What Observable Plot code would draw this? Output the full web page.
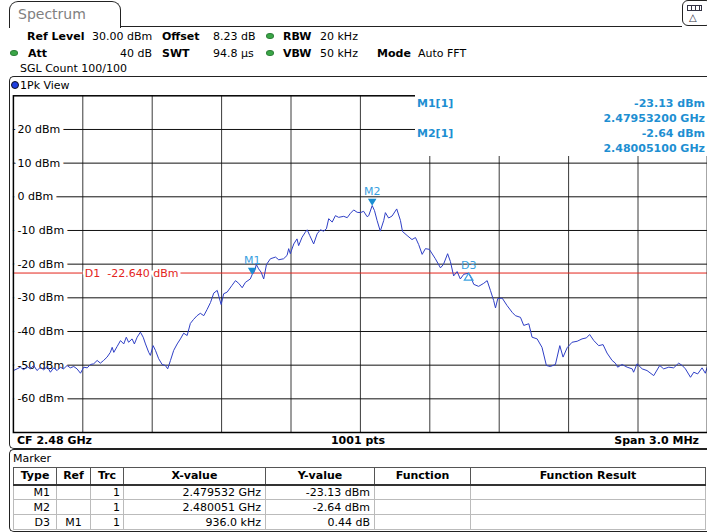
<!DOCTYPE html>
<html><head><meta charset="utf-8">
<script src="https://cdn.jsdelivr.net/npm/d3@7"></script>
<script src="https://cdn.jsdelivr.net/npm/@observablehq/plot@0.6"></script>
<style>
html,body{margin:0;padding:0;overflow:hidden;background:#fff}
body{position:relative;width:707px;height:532px;font-family:"DejaVu Sans",Verdana,sans-serif;font-size:11px;color:#000}
.a{position:absolute;white-space:nowrap;line-height:12px;z-index:3}
.g{position:absolute;width:8px;height:6px;border-radius:50%;background:#3aa647;border:1px solid #2a7d35;box-sizing:border-box;z-index:3}
#chart{position:absolute;left:0;top:0;z-index:1}
.panel{position:absolute;border:1.5px solid #222;border-right:none;border-radius:5px 0 0 5px;z-index:0}
#info{position:absolute;left:415px;top:95px;width:292px;height:61px;background:#fff;z-index:2;color:#1e8fd2;font-weight:bold}
#info div{position:absolute;white-space:nowrap;line-height:12px}
table{position:absolute;left:13px;top:467px;border-collapse:collapse;table-layout:fixed;width:692px;font-size:11px;z-index:3}
tr{height:15px}
thead tr{height:17px}
th,td{padding:0 4px;line-height:13px;white-space:nowrap;overflow:hidden}
th{font-weight:bold;text-align:center;border:1px solid #555;border-bottom:2px solid #333}
td{border:1px solid #bbb;text-align:right}
</style></head>
<body>
<div id="chart"></div>

<!-- top tab -->
<div style="position:absolute;left:9px;top:1px;width:110px;height:26px;border:1.5px solid #222;border-bottom:none;border-radius:9px 9px 0 0"></div>
<div style="position:absolute;left:120px;top:26px;width:562px;border-top:1.5px solid #222"></div>
<div style="position:absolute;left:682px;top:0px;width:30px;height:26px;border:1.5px solid #222;border-radius:6px;box-sizing:border-box"></div>
<div style="position:absolute;left:687px;top:5px;width:13px;height:4px;border:1px solid #334;background:repeating-linear-gradient(90deg,#fff 0 3px,#334 3px 4px)"></div>
<div class="a" style="left:689px;top:12px;font-size:10px;color:#334">△</div>
<div class="a" style="left:18px;top:6px;font-size:14px;line-height:16px;color:#808080">Spectrum</div>

<!-- header rows -->
<div class="a" style="left:27px;top:30.5px"><b>Ref Level</b></div>
<div class="a" style="left:92px;top:30.5px">30.00 dBm</div>
<div class="a" style="left:162px;top:30.5px"><b>Offset</b></div>
<div class="a" style="left:213px;top:30.5px">8.23 dB</div>
<div class="g" style="left:266px;top:33px"></div>
<div class="a" style="left:283px;top:30.5px"><b>RBW</b></div>
<div class="a" style="left:320px;top:30.5px">20 kHz</div>

<div class="g" style="left:10px;top:50px"></div>
<div class="a" style="left:28px;top:47.5px"><b>Att</b></div>
<div class="a" style="left:120px;top:47.5px">40 dB</div>
<div class="a" style="left:162px;top:47.5px"><b>SWT</b></div>
<div class="a" style="left:213px;top:47.5px">94.8 µs</div>
<div class="g" style="left:266px;top:50px"></div>
<div class="a" style="left:283px;top:47.5px"><b>VBW</b></div>
<div class="a" style="left:320px;top:47.5px">50 kHz</div>
<div class="a" style="left:377px;top:47.5px"><b>Mode</b></div>
<div class="a" style="left:418px;top:47.5px">Auto FFT</div>

<div class="a" style="left:20px;top:63px">SGL Count 100/100</div>

<!-- diagram panel -->
<div class="panel" style="left:9px;top:76px;width:700px;height:371px"></div>
<div style="position:absolute;left:11px;top:81px;width:8px;height:8px;border-radius:50%;background:#1f3fe0;border:1px solid #112;box-sizing:border-box;z-index:3"></div>
<div class="a" style="left:20px;top:79.5px">1Pk View</div>

<div id="info">
  <div style="left:2px;top:3px">M1[1]</div>
  <div style="right:2px;top:3px">-23.13 dBm</div>
  <div style="right:2px;top:18px">2.47953200 GHz</div>
  <div style="left:2px;top:33px">M2[1]</div>
  <div style="right:2px;top:33px">-2.64 dBm</div>
  <div style="right:2px;top:48px">2.48005100 GHz</div>
</div>

<div class="a" style="left:17px;top:435px"><b>CF 2.48 GHz</b></div>
<div class="a" style="left:358px;top:435px;transform:translateX(-50%)"><b>1001 pts</b></div>
<div class="a" style="right:8px;top:435px"><b>Span 3.0 MHz</b></div>

<!-- marker table panel -->
<div class="panel" style="left:9px;top:449px;width:700px;height:81px"></div>
<div class="a" style="left:13px;top:453px">Marker</div>
<table id="tbl">
<colgroup><col style="width:43px"><col style="width:34px"><col style="width:33px"><col style="width:142px"><col style="width:109px"><col style="width:96px"><col style="width:235px"></colgroup>
<thead><tr id="thead"></tr></thead>
<tbody id="tbody"></tbody>
</table>

<script>
// ---- trace data (offset from CF 2.48 GHz, in MHz; level in dBm) ----
const freqMHz = [
-1.500,-1.484,-1.470,-1.455,-1.441,-1.427,-1.412,-1.398,-1.383,-1.369,
-1.354,-1.340,-1.326,-1.311,-1.297,-1.283,-1.268,-1.254,-1.239,-1.225,
-1.210,-1.196,-1.181,-1.167,-1.153,-1.138,-1.124,-1.110,-1.095,-1.081,
-1.073,-1.066,-1.052,-1.037,-1.023,-1.012,-1.002,-0.987,-0.977,-0.965,
-0.951,-0.939,-0.929,-0.915,-0.908,-0.896,-0.886,-0.872,-0.857,-0.843,
-0.833,-0.821,-0.807,-0.792,-0.778,-0.764,-0.749,-0.735,-0.721,-0.706,
-0.692,-0.677,-0.663,-0.648,-0.634,-0.619,-0.602,-0.591,-0.576,-0.555,
-0.540,-0.526,-0.511,-0.497,-0.476,-0.468,-0.458,-0.450,-0.440,-0.429,
-0.418,-0.406,-0.389,-0.367,-0.353,-0.332,-0.317,-0.310,-0.303,-0.288,
-0.274,-0.267,-0.252,-0.238,-0.230,-0.219,-0.202,-0.187,-0.173,-0.159,
-0.147,-0.137,-0.122,-0.108,-0.094,-0.072,-0.057,-0.043,-0.029,-0.014,
 0.000, 0.014, 0.029, 0.036, 0.051, 0.061, 0.072, 0.086, 0.101, 0.108,
 0.122, 0.137, 0.157, 0.173, 0.182, 0.202, 0.223, 0.238, 0.252, 0.267,
 0.281, 0.298, 0.324, 0.346, 0.359, 0.377, 0.389, 0.403, 0.418, 0.432,
 0.447, 0.468, 0.480, 0.490, 0.511, 0.533, 0.548, 0.562, 0.576, 0.584,
 0.594, 0.613, 0.634, 0.656, 0.670, 0.692, 0.706, 0.728, 0.742, 0.764,
 0.785, 0.804, 0.821, 0.843, 0.862, 0.876, 0.894, 0.915, 0.937, 0.958,
 0.977, 0.991, 1.009, 1.030, 1.049, 1.066, 1.088, 1.102, 1.112, 1.131,
 1.153, 1.175, 1.181, 1.196, 1.218, 1.239, 1.268, 1.294, 1.311, 1.333,
 1.354, 1.376, 1.391, 1.405, 1.427, 1.441, 1.458, 1.477, 1.491, 1.500];
const levelDbm = [
-51.6,-51.1,-50.6,-51.4,-50.4,-51.1,-50.1,-51.6,-50.6,-51.4,
-50.4,-52.1,-50.8,-51.6,-50.6,-51.1,-50.1,-50.8,-50.4,-51.1,
-52.4,-50.6,-50.8,-49.8,-49.6,-48.6,-49.4,-48.6,-47.6,-46.2,
-44.7,-46.2,-44.5,-42.7,-43.7,-41.7,-43.2,-42.2,-43.7,-41.7,
-40.2,-41.7,-43.7,-46.2,-47.1,-44.2,-45.6,-48.1,-49.8,-50.1,
-51.1,-48.6,-45.6,-43.7,-42.2,-40.5,-41.2,-37.6,-36.4,-35.3,
-34.6,-35.3,-33.5,-31.4,-28.6,-27.8,-32.0,-28.8,-28.3,-26.3,
-24.9,-25.7,-27.0,-25.4,-24.4,-23.1,-22.2,-20.1,-21.4,-22.4,
-24.4,-20.1,-18.4,-17.9,-18.7,-18.4,-17.4,-15.4,-16.9,-14.0,
-12.5,-14.5,-12.0,-10.5, -9.8,-11.5,-14.0,-11.0, -9.8,-10.2,
 -9.5, -6.5, -7.5, -5.6, -6.1, -5.8, -6.2, -4.9, -3.9, -4.6,
 -4.7, -4.3, -5.9, -5.6, -2.6, -4.1, -7.0,-10.2, -7.0, -4.7,
 -6.3, -5.7, -3.6, -7.0,-10.3,-11.5,-12.7,-12.1,-14.2,-17.1,
-15.4,-15.6,-18.4,-21.1,-20.1,-16.9,-19.2,-23.5,-22.2,-24.4,
-23.0,-22.7,-24.3,-26.0,-26.6,-25.7,-24.9,-27.8,-30.8,-33.0,
-30.2,-30.1,-32.3,-34.3,-35.3,-35.8,-38.2,-37.7,-41.7,-42.2,
-44.7,-50.1,-50.4,-49.8,-44.2,-47.6,-44.8,-43.2,-42.9,-42.2,
-41.9,-40.9,-42.7,-44.2,-43.9,-46.4,-48.6,-49.4,-50.6,-49.8,
-50.6,-51.1,-52.1,-49.6,-51.1,-51.6,-53.1,-50.1,-51.1,-50.6,
-50.8,-49.4,-50.1,-51.1,-53.6,-52.1,-52.6,-50.8,-52.4,-50.4];

// ---- axes / grid ----
const yTicks = [20, 10, 0, -10, -20, -30, -40, -50, -60];
const xGrid = [-1.2, -0.9, -0.6, -0.3, 0, 0.3, 0.6, 0.9, 1.2];
const xDomain = [-1.5, 1.5];
const yDomain = [-70, 30];

// ---- markers ----
const markerNames = ["M1", "M2", "D3"];
const markerFreqMHz = [-0.468, 0.051, 0.468];
const markerLevel = [-23.13, -2.64, -22.69];
const displayLineD1 = -22.64;

// ---- marker table ----
const tableHeader = ["Type", "Ref", "Trc", "X-value", "Y-value", "Function", "Function Result"];
const tableType = ["M1", "M2", "D3"];
const tableRef = ["", "", "M1"];
const tableTrc = ["1", "1", "1"];
const tableX = ["2.479532 GHz", "2.480051 GHz", "936.0 kHz"];
const tableY = ["-23.13 dBm", "-2.64 dBm", "0.44 dB"];

const trace = freqMHz.map((f, i) => ({f, v: levelDbm[i]}));
const markers = markerNames.map((n, i) => ({name: n, f: markerFreqMHz[i], v: markerLevel[i]}));

const BLUE = "#1b8fd2";
const RED = "#e3241b";
const downTri = {draw(ctx) { ctx.moveTo(0, 0); ctx.lineTo(-4.3, -7); ctx.lineTo(4.3, -7); ctx.closePath(); }};
const upTri = {draw(ctx) { ctx.moveTo(0, 0); ctx.lineTo(-4.3, 7); ctx.lineTo(4.3, 7); ctx.closePath(); }};

const chart = Plot.plot({
  width: 707, height: 532,
  marginTop: 95.3, marginBottom: 100, marginLeft: 12.9, marginRight: 0.1,
  x: {domain: xDomain, axis: null},
  y: {domain: yDomain, axis: null},
  style: {fontFamily: "'DejaVu Sans', Verdana, sans-serif", fontSize: "11px", background: "transparent", overflow: "visible"},
  marks: [
    Plot.ruleX(xGrid, {stroke: "#3a3a3a", strokeWidth: 1}),
    Plot.ruleY(yTicks, {stroke: "#111", strokeWidth: 1}),
    Plot.text(yTicks, {y: d => d, text: d => `${d} dBm`, frameAnchor: "left", dx: 4, textAnchor: "start",
      fill: "#000", stroke: "#fff", strokeWidth: 8, paintOrder: "stroke"}),
    Plot.ruleY([displayLineD1], {stroke: RED, strokeWidth: 1}),
    Plot.text([displayLineD1], {y: d => d, x: xGrid[0], text: d => `D1\u00a0\u00a0${d.toFixed(3)} dBm`, dx: 2,
      textAnchor: "start", fill: RED, stroke: "#fff", strokeWidth: 4, strokeLinejoin: "round", paintOrder: "stroke"}),
    Plot.line(trace, {x: "f", y: "v", stroke: "#2f3fc6", strokeWidth: 1}),
    Plot.dot(markers.filter(d => d.name[0] === "M"), {x: "f", y: "v", symbol: downTri, fill: BLUE, stroke: "none"}),
    Plot.dot(markers.filter(d => d.name[0] === "D"), {x: "f", y: "v", symbol: upTri, fill: "none", stroke: "#3aa0e0", strokeWidth: 1.2}),
    Plot.text(markers.filter(d => d.name[0] === "M"), {x: "f", y: "v", text: "name", dy: -14.5, fill: "#3a9fdf"}),
    Plot.text(markers.filter(d => d.name[0] === "D"), {x: "f", y: "v", text: "name", dy: -8, fill: "#3a9fdf"}),
    Plot.frame({stroke: "#000", strokeWidth: 1.5})
  ]
});
document.getElementById("chart").appendChild(chart);

// break the display line behind its label (gap sized from the rendered text, in the text's own coordinates)
const d1Text = Array.from(chart.querySelectorAll("text")).find(t => t.textContent.startsWith("D1"));
if (d1Text) {
  const bb = d1Text.getBBox();
  const gap = document.createElementNS("http://www.w3.org/2000/svg", "rect");
  gap.setAttribute("x", bb.x - 2);
  gap.setAttribute("width", bb.width + 4);
  gap.setAttribute("y", bb.y + bb.height / 2 - 2.5);
  gap.setAttribute("height", 4);
  gap.setAttribute("fill", "#fff");
  gap.setAttribute("stroke", "none");
  const tf = d1Text.getAttribute("transform");
  if (tf) gap.setAttribute("transform", tf);
  d1Text.parentNode.insertBefore(gap, d1Text);
}

// table
const thead = document.getElementById("thead");
tableHeader.forEach(h => { const th = document.createElement("th"); th.textContent = h; thead.appendChild(th); });
const tbody = document.getElementById("tbody");
tableType.forEach((t, i) => {
  const tr = document.createElement("tr");
  [t, tableRef[i], tableTrc[i], tableX[i], tableY[i], "", ""].forEach((v, j) => {
    const td = document.createElement("td");
    td.textContent = v;
    if (j === 0) td.style.paddingRight = "6px";
    if (j === 1) td.style.textAlign = "center";
    if (j === 2) td.style.paddingRight = "3px";
    tr.appendChild(td);
  });
  tbody.appendChild(tr);
});
</script>
</body></html>
